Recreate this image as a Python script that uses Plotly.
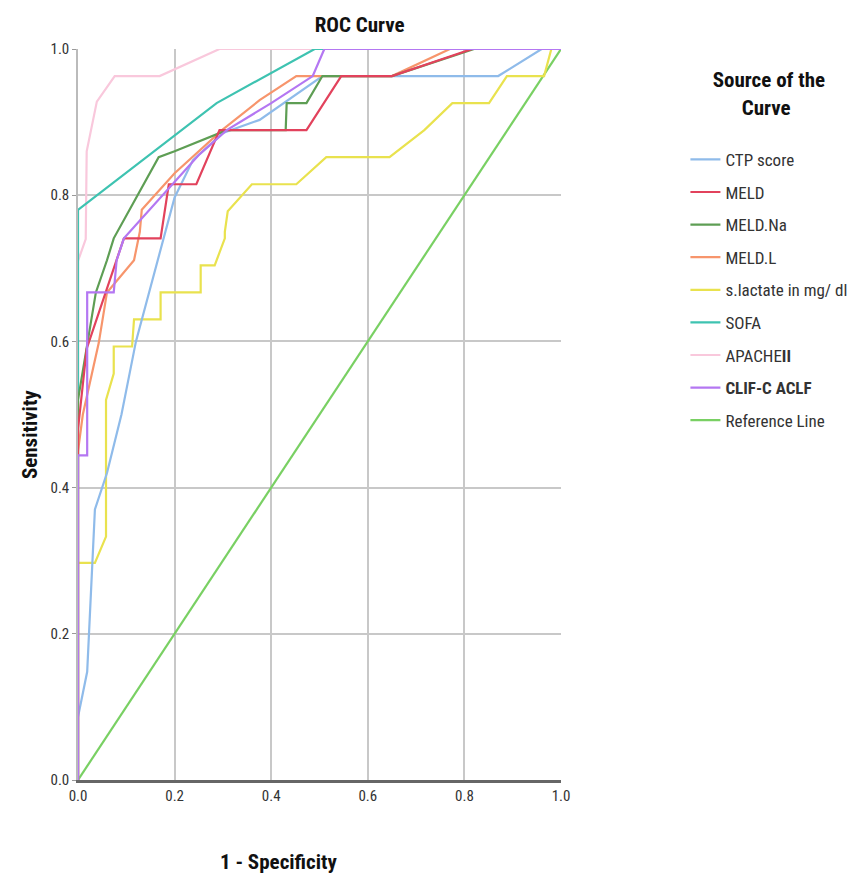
import plotly.graph_objects as go

# ---- data ----
ctp_x = [0, 0, 0.019, 0.035, 0.06, 0.09, 0.12, 0.16, 0.20, 0.238, 0.30, 0.376, 0.506, 0.87, 0.96, 1.0]
ctp_y = [0, 0.086, 0.148, 0.37, 0.42, 0.50, 0.60, 0.70, 0.797, 0.848, 0.885, 0.903, 0.963, 0.963, 1.0, 1.0]

meld_x = [0, 0, 0.018, 0.095, 0.171, 0.188, 0.245, 0.293, 0.473, 0.545, 0.65, 0.816, 1.0]
meld_y = [0, 0.48, 0.59, 0.741, 0.741, 0.815, 0.815, 0.889, 0.889, 0.963, 0.963, 1.0, 1.0]

meldna_x = [0, 0, 0.037, 0.06, 0.074, 0.167, 0.20, 0.308, 0.43, 0.432, 0.473, 0.506, 0.65, 0.82, 1.0]
meldna_y = [0, 0.52, 0.667, 0.711, 0.741, 0.852, 0.86, 0.889, 0.889, 0.926, 0.926, 0.963, 0.963, 1.0, 1.0]

meldl_x = [0, 0, 0.01, 0.043, 0.06, 0.116, 0.128, 0.132, 0.20, 0.30, 0.376, 0.452, 0.65, 0.77, 1.0]
meldl_y = [0, 0.45, 0.50, 0.598, 0.667, 0.711, 0.75, 0.78, 0.83, 0.89, 0.93, 0.963, 0.963, 1.0, 1.0]

lact_x = [0, 0, 0.035, 0.058, 0.058, 0.074, 0.074, 0.112, 0.116, 0.171, 0.171, 0.254, 0.254, 0.283, 0.304, 0.304,
          0.31, 0.36, 0.452, 0.514, 0.645, 0.717, 0.775, 0.851, 0.888, 0.965, 0.98, 1.0]
lact_y = [0, 0.297, 0.297, 0.333, 0.52, 0.556, 0.593, 0.593, 0.63, 0.63, 0.667, 0.667, 0.704, 0.704, 0.741, 0.75,
          0.778, 0.815, 0.815, 0.852, 0.852, 0.889, 0.926, 0.926, 0.963, 0.963, 1.0, 1.0]

sofa_x = [0, 0, 0.287, 0.49, 1.0]
sofa_y = [0, 0.78, 0.926, 1.0, 1.0]

apache_x = [0, 0, 0.016, 0.018, 0.039, 0.076, 0.169, 0.293, 1.0]
apache_y = [0, 0.71, 0.74, 0.86, 0.928, 0.963, 0.963, 1.0, 1.0]

clif_x = [0, 0, 0.019, 0.019, 0.074, 0.08, 0.095, 0.25, 0.308, 0.40, 0.486, 0.51, 1.0]
clif_y = [0, 0.444, 0.444, 0.667, 0.667, 0.711, 0.741, 0.855, 0.889, 0.926, 0.963, 1.0, 1.0]

ref_x = [0, 1]
ref_y = [0, 1]

tick_vals = [0, 0.2, 0.4, 0.6, 0.8, 1.0]
tick_text = ["0.0", "0.2", "0.4", "0.6", "0.8", "1.0"]

series = [
    ("CTP score", ctp_x, ctp_y, "#8fbbea"),
    ("MELD", meld_x, meld_y, "#e2425c"),
    ("MELD.Na", meldna_x, meldna_y, "#5e9e54"),
    ("MELD.L", meldl_x, meldl_y, "#f7956c"),
    ("s.lactate in mg/ dl", lact_x, lact_y, "#e9e24e"),
    ("SOFA", sofa_x, sofa_y, "#3ec3b1"),
    ("APACHE<b>II</b>", apache_x, apache_y, "#f9c8dc"),
    ("<b>CLIF-C ACLF</b>", clif_x, clif_y, "#b477f2"),
    ("Reference Line", ref_x, ref_y, "#79d063"),
]

FONT = "Liberation Sans Narrow, Arial Narrow, Roboto Condensed, Roboto, Liberation Sans, Arial, sans-serif"

fig = go.Figure()
order = [8, 4, 0, 6, 5, 3, 2, 1, 7]
for i in order:
    name, xs, ys, col = series[i]
    fig.add_trace(go.Scatter(x=xs, y=ys, mode="lines", name=name,
                             line=dict(color=col, width=2.2),
                             legendgroup=str(i), legendrank=i + 1,
                             hoverinfo="skip"))

# page has an 8px body margin: figure is 855x870 placed at (8,8)
W, H = 855, 870
L, T = 70, 41
PW, PH = 484, 731

fig.update_layout(
    width=W, height=H,
    margin=dict(l=L, r=W - L - PW, t=T, b=H - T - PH),
    paper_bgcolor="white", plot_bgcolor="white",
    font=dict(family=FONT, size=14, color="#222"),
    showlegend=True,
    legend=dict(
        x=1.255, xanchor="left", y=0.985, yanchor="top",
        title=dict(text="<b>Source of the<br>" + "&nbsp;" * 6 + "Curve</b><br> ",
                   font=dict(size=21, family=FONT, color="#111"),
                   side="top center"),
        font=dict(size=17, family=FONT, color="#333"),
        tracegroupgap=7.5,
        itemwidth=30,
        bgcolor="rgba(0,0,0,0)",
    ),
    title=dict(text="<b>ROC Curve</b>", x=0.583, xref="paper", xanchor="center",
               y=1 - 17 / H, yanchor="middle",
               font=dict(size=21, family=FONT, color="#111")),
)

fig.update_xaxes(range=[0, 1], tickvals=tick_vals, ticktext=tick_text,
                 showgrid=True, gridcolor="#c8c8c8", gridwidth=1.5,
                 showline=True, linecolor="#666", linewidth=2.5, mirror=False,
                 ticks="", tickfont=dict(size=15, family=FONT, color="#333"),
                 zeroline=False, fixedrange=True)
fig.update_yaxes(range=[0, 1], tickvals=tick_vals, ticktext=tick_text,
                 showgrid=True, gridcolor="#c8c8c8", gridwidth=1.5,
                 showline=True, linecolor="#bbb", linewidth=1.5, mirror=False,
                 ticks="outside", ticklen=4, tickcolor="#999",
                 tickfont=dict(size=15, family=FONT, color="#333"),
                 zeroline=False, fixedrange=True)

fig.add_annotation(text="<b>1 - Specificity</b>", xref="paper", yref="paper",
                   x=(279 - 78) / PW, y=-(862 - 780) / PH, xanchor="center", yanchor="middle",
                   showarrow=False, font=dict(size=21, family=FONT, color="#111"))
fig.add_annotation(text="<b>Sensitivity</b>", xref="paper", yref="paper",
                   x=-(78 - 30) / PW, y=(780 - 435) / PH, xanchor="center", yanchor="middle",
                   textangle=-90, showarrow=False, font=dict(size=21, family=FONT, color="#111"))

fig.write_html("out.html")
